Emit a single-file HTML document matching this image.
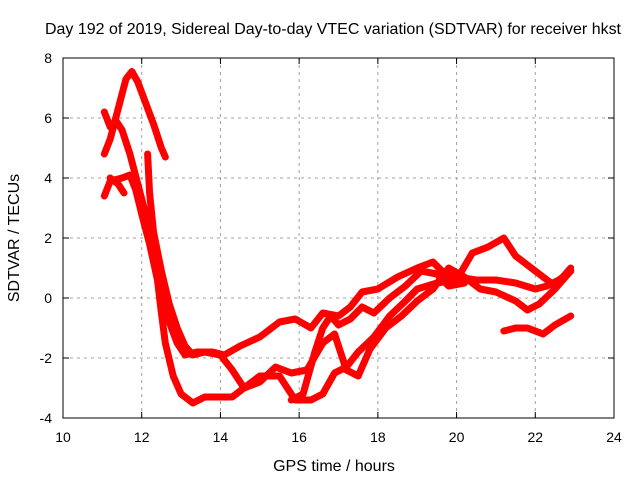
<!DOCTYPE html>
<html><head><meta charset="utf-8"><style>
body{margin:0;background:#fff}
svg{font-family:"Liberation Sans",sans-serif;font-size:14px}
.big{font-size:16px}
</style></head><body>
<svg id="chart" width="640" height="480">
<text class="big" x="333" y="34" text-anchor="middle" textLength="576" lengthAdjust="spacingAndGlyphs">Day 192 of 2019, Sidereal Day-to-day VTEC variation (SDTVAR) for receiver hkst</text>
<text class="big" x="334" y="471" text-anchor="middle">GPS time / hours</text>
<text class="big" transform="translate(19,238) rotate(-90)" text-anchor="middle">SDTVAR / TECUs</text>
<g id="grid"></g><g id="series"></g>
<rect x="63" y="58" width="551" height="360" fill="none" stroke="#000" stroke-width="1"/>
</svg>
<script>
const xTicks=[10,12,14,16,18,20,22,24];
const yTicks=[-4,-2,0,2,4,6,8];
const s1=[[11.05,4.8],[11.2,5.3],[11.4,6.3],[11.6,7.3],[11.75,7.55],[11.9,7.2],[12.1,6.5],[12.3,5.8],[12.5,5.0],[12.6,4.7]];
const s2=[[11.05,6.2],[11.2,5.7],[11.35,5.9],[11.5,5.6],[11.7,4.8],[11.9,3.8],[12.1,2.8],[12.3,1.5],[12.5,0.3],[12.7,-0.8],[12.9,-1.5],[13.1,-1.9],[13.4,-1.8],[13.8,-1.8],[14.1,-1.9],[14.5,-1.6],[15,-1.3],[15.5,-0.8],[15.9,-0.7],[16.3,-1.0],[16.6,-0.5],[17,-0.6],[17.3,-0.3],[17.6,0.2],[18,0.3],[18.5,0.7],[19,1.0],[19.4,1.2],[19.7,0.8],[20,0.7],[20.5,0.6],[21,0.6],[21.5,0.5],[22,0.3],[22.3,0.4],[22.6,0.6],[22.9,0.9]];
const s3=[[11.05,3.4],[11.2,3.9],[11.5,4.0],[11.7,4.1],[11.85,3.6],[12.0,2.8],[12.2,1.8],[12.4,0.6],[12.5,-0.5],[12.6,-1.5],[12.8,-2.6],[13.0,-3.2],[13.3,-3.5],[13.6,-3.3],[14,-3.3],[14.3,-3.3],[14.6,-3.0],[15,-2.6],[15.5,-2.6],[15.9,-3.4],[16.3,-3.4],[16.6,-3.2],[16.9,-2.5],[17.2,-2.3],[17.5,-1.8],[17.9,-1.3],[18.3,-0.6],[18.7,-0.1],[19,0.3],[19.5,0.5],[20,0.6],[20.4,1.5],[20.8,1.7],[21.2,2.0],[21.5,1.4],[21.8,1.1],[22.2,0.7],[22.5,0.4],[22.9,1.0]];
const s4=[[11.2,4.0],[11.4,3.8],[11.55,3.5]];
const s5=[[12.15,4.8],[12.2,3.5],[12.3,2.2],[12.5,0.9],[12.7,-0.2],[12.9,-1.0],[13.1,-1.6],[13.3,-1.9],[13.6,-1.8],[14.0,-1.9],[14.3,-2.4],[14.6,-3.0],[15.0,-2.8],[15.4,-2.3],[15.8,-2.5],[16.2,-2.4],[16.6,-1.5],[16.9,-1.2],[17.2,-2.4],[17.5,-2.6],[17.8,-1.7],[18.2,-1.0],[18.6,-0.6],[19,-0.1],[19.4,0.3],[19.8,1.0],[20.2,0.7],[20.6,0.3],[21,0.2],[21.5,-0.1],[21.8,-0.4],[22.1,-0.2],[22.5,0.3],[22.9,0.9]];
const s6=[[21.2,-1.1],[21.5,-1.0],[21.8,-1.0],[22.2,-1.2],[22.5,-0.9],[22.9,-0.6]];
const s7=[[15.8,-3.4],[16.1,-3.2],[16.4,-1.8],[16.6,-1.0],[16.8,-0.6],[17.0,-0.9],[17.3,-0.7],[17.6,-0.3],[17.9,-0.5],[18.3,0.0],[18.7,0.4],[19.1,0.9],[19.5,0.8],[19.8,0.4],[20.2,0.5]];
const allSeries=[s1,s2,s3,s4,s5,s6,s7];
const NS="http://www.w3.org/2000/svg";
const X=v=>63+(v-10)*551/14, Y=v=>418-(v+4)*30;
const grid=document.getElementById('grid'), ser=document.getElementById('series');
function mk(tag,at,parent){const e=document.createElementNS(NS,tag);for(const k in at)e.setAttribute(k,at[k]);parent.appendChild(e);return e;}
xTicks.forEach(t=>{
 if(t>10&&t<24){const g=mk('line',{x1:X(t),x2:X(t),y1:58,y2:418,stroke:'#a0a0a0','stroke-dasharray':'3,4'},grid);
 
 }
 mk('line',{x1:X(t),x2:X(t),y1:418,y2:412,stroke:'#000'},grid);
 mk('line',{x1:X(t),x2:X(t),y1:58,y2:64,stroke:'#000'},grid);
 const l=mk('text',{x:X(t),y:442,'text-anchor':'middle'},grid);l.textContent=t;
 
 
});
yTicks.forEach(t=>{
 if(t>-4&&t<8){const g=mk('line',{x1:63,x2:614,y1:Y(t),y2:Y(t),stroke:'#a0a0a0','stroke-dasharray':'3,4'},grid);
 
 }
 mk('line',{x1:63,x2:69,y1:Y(t),y2:Y(t),stroke:'#000'},grid);
 mk('line',{x1:608,x2:614,y1:Y(t),y2:Y(t),stroke:'#000'},grid);
 const l=mk('text',{x:52,y:Y(t)+5,'text-anchor':'end'},grid);l.textContent=t;
 
 
});
allSeries.forEach((s,i)=>{
 const p=mk('polyline',{points:s.map(d=>X(d[0])+','+Y(d[1])).join(' '),fill:'none',stroke:'#ff0000','stroke-width':7,'stroke-linejoin':'round','stroke-linecap':'round'},ser);
 
 
});
</script>
</body></html>
